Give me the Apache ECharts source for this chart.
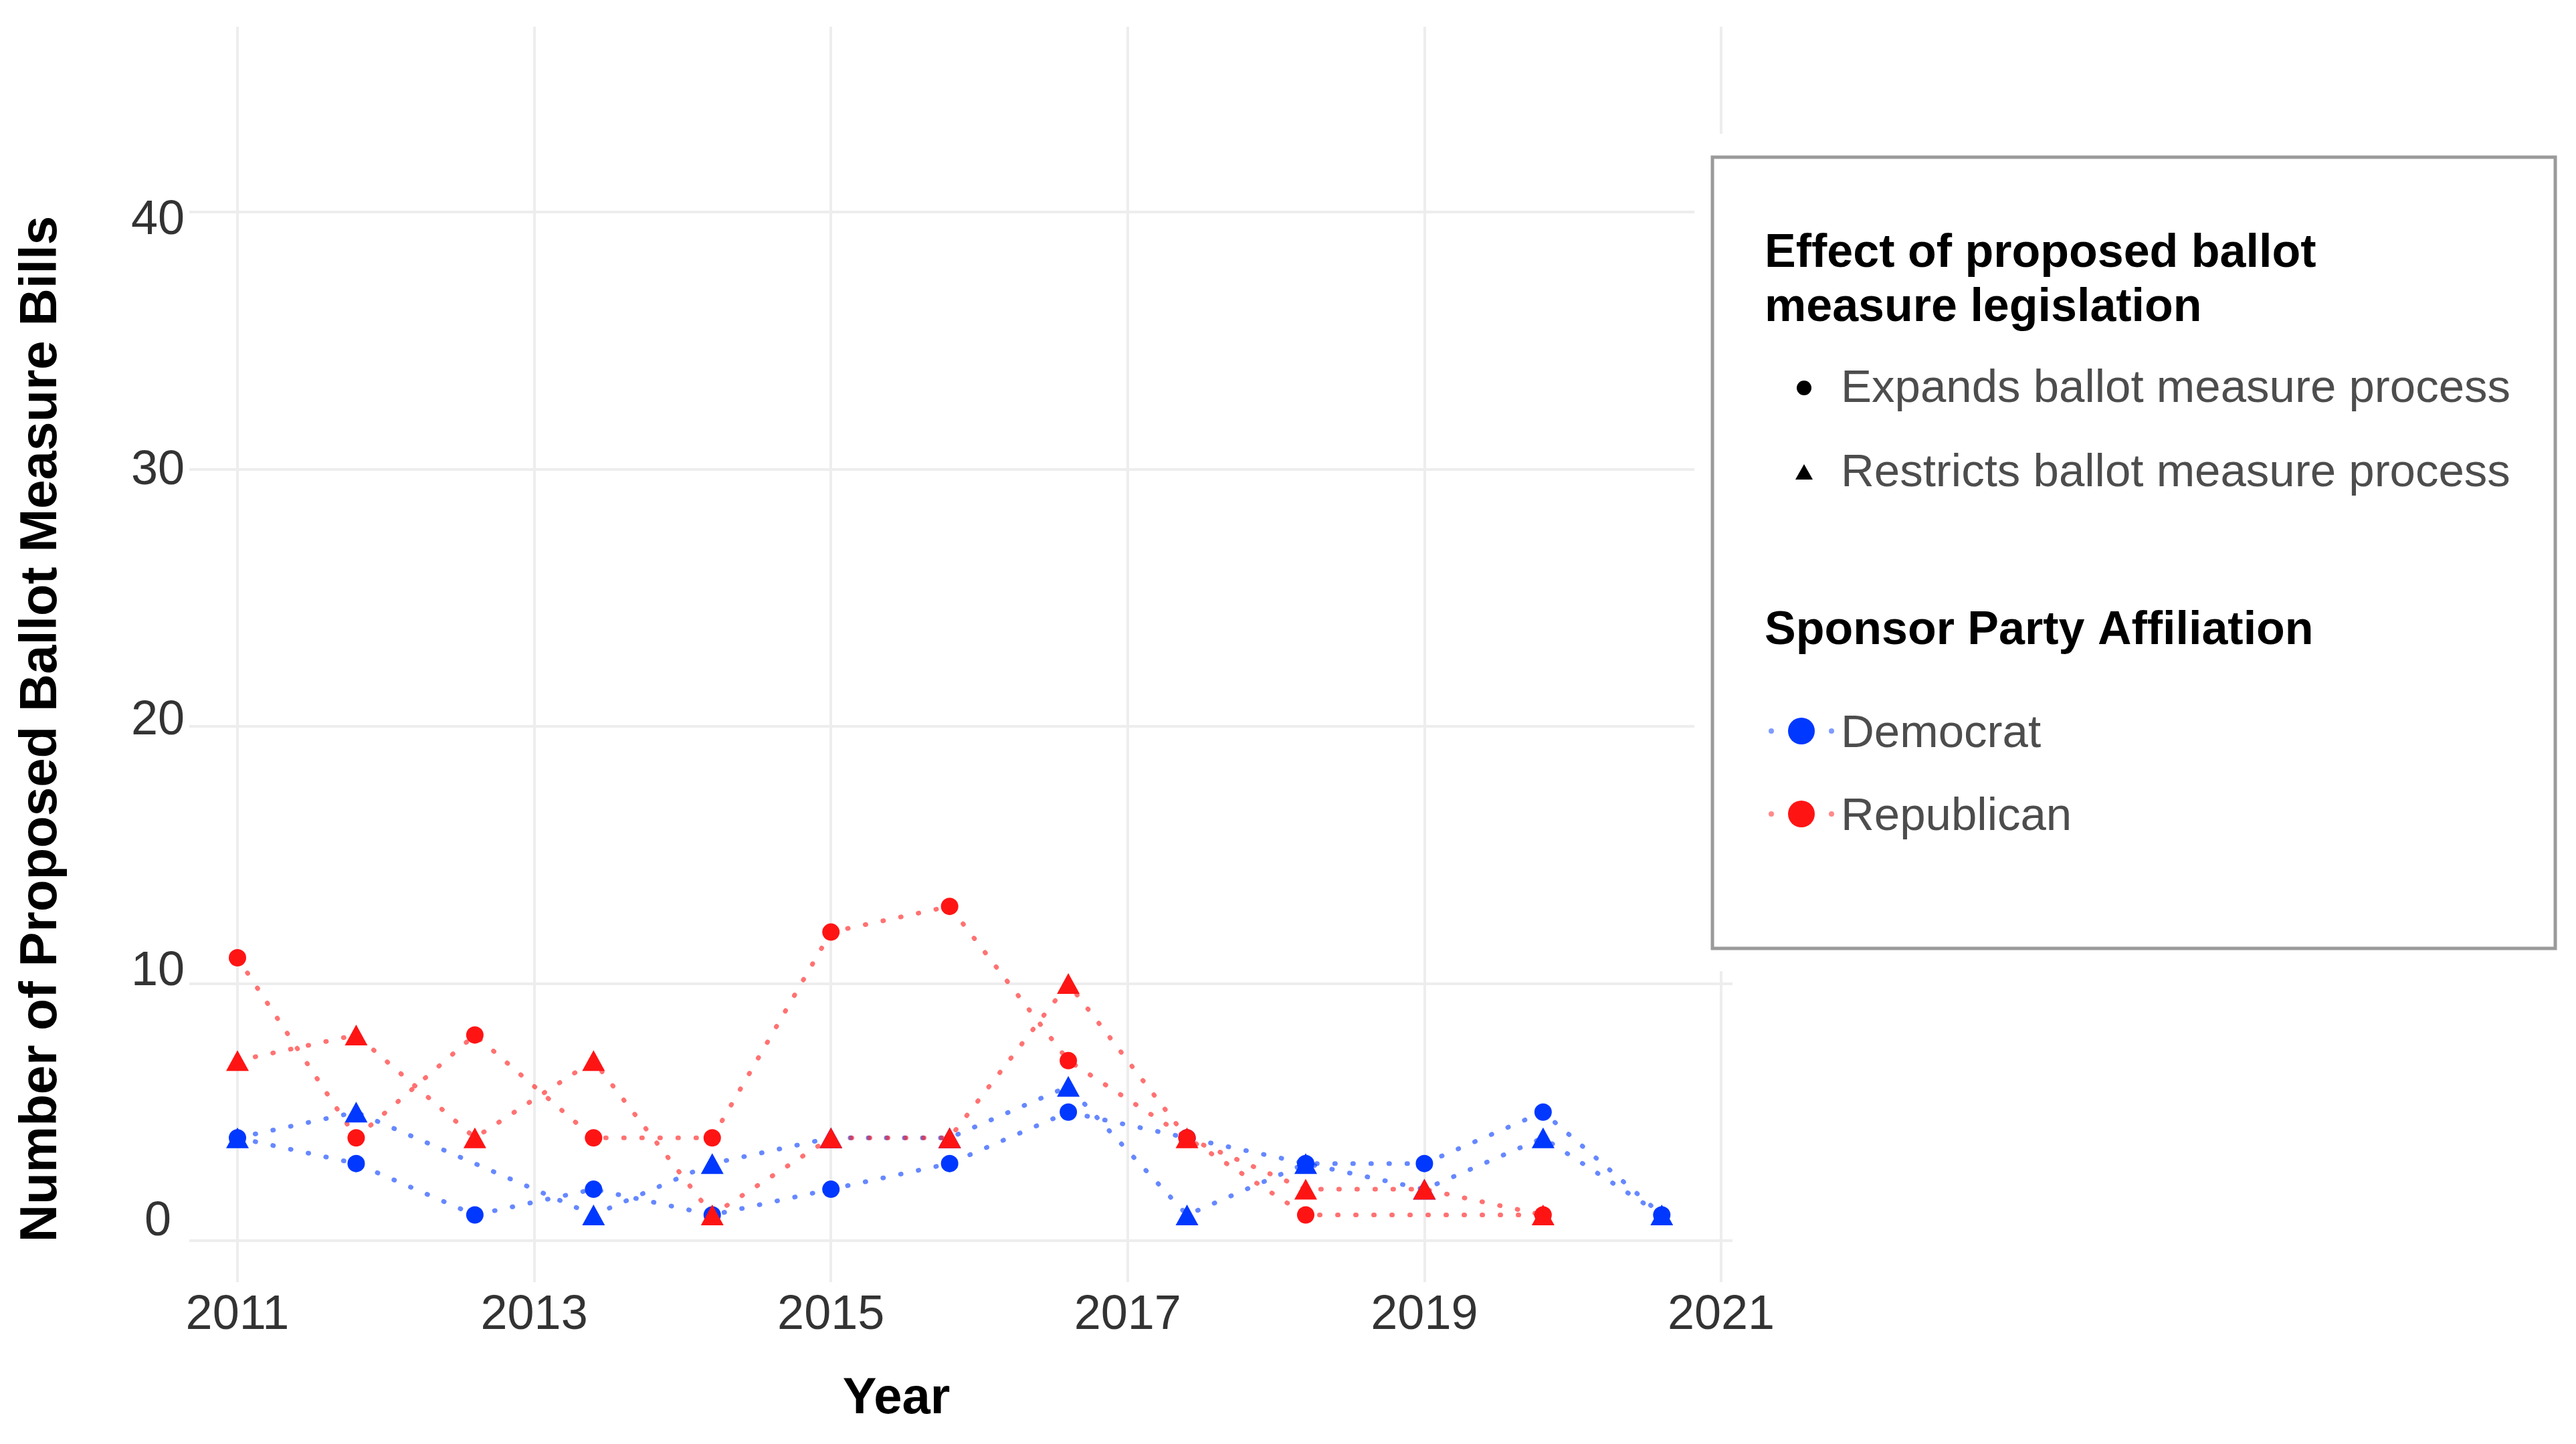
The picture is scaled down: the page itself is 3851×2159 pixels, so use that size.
<!DOCTYPE html>
<html>
<head>
<meta charset="utf-8">
<script src="https://cdn.jsdelivr.net/npm/echarts@6/dist/echarts.min.js"></script>
<style>
html,body{margin:0;padding:0;background:#ffffff;}
#chart{width:3851px;height:2159px;}
</style>
</head>
<body>
<div id="chart"></div>
<script>
// ---- Data ----
const years = [2011, 2011.8, 2012.6, 2013.4, 2014.2, 2015, 2015.8, 2016.6, 2017.4, 2018.2, 2019, 2019.8, 2020.6];
const demExpands   = [4, 3, 1, 2, 1, 2, 3, 5, 4, 3, 3, 5, 1];
const demRestricts = [4, 5, null, 1, 3, 4, 4, 6, 1, 3, 2, 4, 1];
const repExpands   = [11, 4, 8, 4, 4, 12, 13, 7, 4, 1, null, 1, null];
const repRestricts = [7, 8, 4, 7, 1, 4, 4, 10, 4, 2, 2, 1, null];
const xTicks = [2011, 2013, 2015, 2017, 2019, 2021];
const yTicks = [0, 10, 20, 30, 40];
const shapeLegend = ['Expands ballot measure process', 'Restricts ballot measure process'];
const partyLegend = ['Democrat', 'Republican'];

// ---- Styles ----
const FONT = '"Liberation Sans", Arial, Helvetica, sans-serif';
const BLUE = '#0038ff';
const RED = '#ff1414';
const GRID = '#ededed';

const xMin = xTicks[0], xMax = xTicks[xTicks.length - 1], xInt = xTicks[1] - xTicks[0];
const yMin = yTicks[0], yMax = yTicks[yTicks.length - 1], yInt = yTicks[1] - yTicks[0];

function pts(arr) {
  return years.map((x, i) => [x, arr[i]]).filter(d => d[1] !== null);
}
function mk(name, arr, color, symbol, size) {
  return {
    name: name, type: 'line', xAxisIndex: 0, yAxisIndex: 0,
    data: pts(arr), symbol: symbol, symbolSize: size, showSymbol: true,
    clip: false, animation: false,
    itemStyle: { color: color, opacity: 1 },
    lineStyle: { color: color, opacity: 0.6, width: 7, type: [1, 26], cap: 'round' },
    emphasis: { disabled: true }
  };
}

const chart = echarts.init(document.getElementById('chart'), null, { renderer: 'canvas' });

const legX = 2560, legY = 235, legW = 1260, legH = 1183;
const textX = 2752, titleX = 2638, markX = 2697;

const option = {
  backgroundColor: '#ffffff',
  animation: false,
  textStyle: { fontFamily: FONT },
  grid: [
    { left: 355, top: 317, width: 2218, height: 1538 },   // data
    { left: 355, top: 40, width: 2218, height: 1877 },    // x gridlines + labels
    { left: 283, top: 317, width: 2307, height: 1538 },   // y gridlines
    { left: 283, top: 330, width: 2307, height: 1497 }    // y labels
  ],
  xAxis: [
    { gridIndex: 0, type: 'value', min: xMin, max: xMax, show: false },
    { gridIndex: 1, type: 'value', min: xMin, max: xMax, interval: xInt,
      axisLine: { show: false }, axisTick: { show: false },
      splitLine: { show: true, lineStyle: { color: GRID, width: 4 } },
      axisLabel: { show: true, fontSize: 72, color: '#333333', fontFamily: FONT,
        margin: 50, verticalAlign: 'middle', formatter: v => String(v) } },
    { gridIndex: 2, type: 'value', min: 0, max: 1, show: false },
    { gridIndex: 3, type: 'value', min: 0, max: 1, show: false }
  ],
  yAxis: [
    { gridIndex: 0, type: 'value', min: yMin, max: yMax, show: false },
    { gridIndex: 1, type: 'value', min: 0, max: 1, show: false },
    { gridIndex: 2, type: 'value', min: yMin, max: yMax, interval: yInt,
      axisLine: { show: false }, axisTick: { show: false }, axisLabel: { show: false },
      splitLine: { show: true, lineStyle: { color: GRID, width: 4 } } },
    { gridIndex: 3, type: 'value', min: yMin, max: yMax, interval: yInt,
      axisLine: { show: false }, axisTick: { show: false }, splitLine: { show: false },
      axisLabel: { show: true, fontSize: 72, color: '#333333', fontFamily: FONT,
        margin: 47, align: 'center' } }
  ],
  series: [
    mk('Democrat – ' + shapeLegend[0], demExpands, BLUE, 'circle', 26),
    mk('Democrat – ' + shapeLegend[1], demRestricts, BLUE, 'triangle', [34, 31]),
    mk('Republican – ' + shapeLegend[0], repExpands, RED, 'circle', 26),
    mk('Republican – ' + shapeLegend[1], repRestricts, RED, 'triangle', [34, 31])
  ],
  graphic: [
    // axis titles
    { type: 'text', x: 62, y: 1090, rotation: Math.PI / 2, z: 50,
      style: { text: 'Number of Proposed Ballot Measure Bills', fontFamily: FONT, fontSize: 78,
        fontWeight: 'bold', fill: '#000', align: 'center', verticalAlign: 'middle' } },
    { type: 'text', x: 1340, y: 2092, z: 50,
      style: { text: 'Year', fontFamily: FONT, fontSize: 76, fontWeight: 'bold',
        fill: '#000', align: 'center', verticalAlign: 'middle' } },
    // legend background + frame
    { type: 'rect', z: 100, shape: { x: 2533, y: 200, width: 1318, height: 1252 },
      style: { fill: '#ffffff' } },
    { type: 'rect', z: 101, shape: { x: legX, y: legY, width: legW, height: legH },
      style: { fill: '#ffffff', stroke: '#9a9a9a', lineWidth: 5 } },
    // shape legend
    { type: 'text', x: titleX, y: 380, z: 102,
      style: { text: 'Effect of proposed ballot', fontFamily: FONT, fontSize: 70, fontWeight: 'bold',
        fill: '#000', align: 'left', verticalAlign: 'middle' } },
    { type: 'text', x: titleX, y: 461, z: 102,
      style: { text: 'measure legislation', fontFamily: FONT, fontSize: 70, fontWeight: 'bold',
        fill: '#000', align: 'left', verticalAlign: 'middle' } },
    { type: 'circle', z: 102, shape: { cx: markX, cy: 580, r: 11 }, style: { fill: '#000' } },
    { type: 'text', x: textX, y: 582, z: 102,
      style: { text: shapeLegend[0], fontFamily: FONT, fontSize: 69,
        fill: '#4d4d4d', align: 'left', verticalAlign: 'middle' } },
    { type: 'polygon', z: 102, shape: { points: [[markX, 694], [markX - 13, 717], [markX + 13, 717]] },
      style: { fill: '#000' } },
    { type: 'text', x: textX, y: 708, z: 102,
      style: { text: shapeLegend[1], fontFamily: FONT, fontSize: 69,
        fill: '#4d4d4d', align: 'left', verticalAlign: 'middle' } },
    // party legend
    { type: 'text', x: titleX, y: 944, z: 102,
      style: { text: 'Sponsor Party Affiliation', fontFamily: FONT, fontSize: 70, fontWeight: 'bold',
        fill: '#000', align: 'left', verticalAlign: 'middle' } },
    { type: 'circle', z: 102, shape: { cx: 2648, cy: 1093, r: 4 }, style: { fill: BLUE, opacity: 0.5 } },
    { type: 'circle', z: 102, shape: { cx: 2738, cy: 1093, r: 4 }, style: { fill: BLUE, opacity: 0.5 } },
    { type: 'circle', z: 102, shape: { cx: 2693, cy: 1093, r: 20 }, style: { fill: BLUE } },
    { type: 'text', x: textX, y: 1098, z: 102,
      style: { text: partyLegend[0], fontFamily: FONT, fontSize: 69,
        fill: '#4d4d4d', align: 'left', verticalAlign: 'middle' } },
    { type: 'circle', z: 102, shape: { cx: 2648, cy: 1217, r: 4 }, style: { fill: RED, opacity: 0.5 } },
    { type: 'circle', z: 102, shape: { cx: 2738, cy: 1217, r: 4 }, style: { fill: RED, opacity: 0.5 } },
    { type: 'circle', z: 102, shape: { cx: 2693, cy: 1217, r: 20 }, style: { fill: RED } },
    { type: 'text', x: textX, y: 1222, z: 102,
      style: { text: partyLegend[1], fontFamily: FONT, fontSize: 69,
        fill: '#4d4d4d', align: 'left', verticalAlign: 'middle' } }
  ]
};

chart.setOption(option);
</script>
</body>
</html>
